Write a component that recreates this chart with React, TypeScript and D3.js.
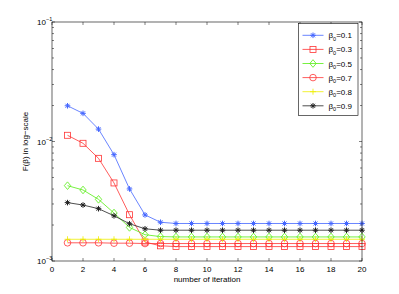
import * as d3 from "d3";

const iterations = d3.range(1, 21);

const series = [
  { label: "0.1", color: "#4466ff", marker: "star",
    values: [0.0199, 0.0172, 0.0127, 0.00776, 0.00401, 0.00243, 0.00211, 0.00206, 0.00206, 0.00206, 0.00206, 0.00206, 0.00206, 0.00206, 0.00206, 0.00206, 0.00206, 0.00206, 0.00206, 0.00206] },
  { label: "0.3", color: "#ff3333", marker: "square",
    values: [0.01127, 0.00966, 0.00723, 0.0045, 0.00244, 0.00144, 0.00134, 0.00132, 0.00132, 0.00132, 0.00132, 0.00132, 0.00132, 0.00132, 0.00132, 0.00132, 0.00132, 0.00132, 0.00132, 0.00132] },
  { label: "0.5", color: "#55ee11", marker: "diamond",
    values: [0.00427, 0.00393, 0.00328, 0.00252, 0.00191, 0.00166, 0.0016, 0.00159, 0.00159, 0.00159, 0.00159, 0.00159, 0.00159, 0.00159, 0.00159, 0.00159, 0.00159, 0.00159, 0.00159, 0.00159] },
  { label: "0.7", color: "#ff3333", marker: "circle",
    values: [0.00142, 0.00142, 0.00142, 0.00141, 0.00141, 0.0014, 0.0014, 0.0014, 0.0014, 0.0014, 0.0014, 0.0014, 0.0014, 0.0014, 0.0014, 0.0014, 0.0014, 0.0014, 0.0014, 0.0014] },
  { label: "0.8", color: "#eeee00", marker: "plus",
    values: [0.00152, 0.00152, 0.00152, 0.00152, 0.00152, 0.00152, 0.00152, 0.00152, 0.00152, 0.00152, 0.00152, 0.00152, 0.00152, 0.00152, 0.00152, 0.00152, 0.00152, 0.00152, 0.00152, 0.00152] },
  { label: "0.9", color: "#222222", marker: "star",
    values: [0.00308, 0.00294, 0.00274, 0.00239, 0.00205, 0.00186, 0.00181, 0.00181, 0.00181, 0.00181, 0.00181, 0.00181, 0.00181, 0.00181, 0.00181, 0.00181, 0.00181, 0.00181, 0.00181, 0.00181] },
];

const xTicks = [0, 2, 4, 6, 8, 10, 12, 14, 16, 18, 20];
const yDecades = [-3, -2, -1];

const W = 399, H = 294;
const m = { left: 52, right: 37, top: 22, bottom: 33 };
const font = "'Liberation Sans', Arial, sans-serif";

const Marker = ({ type, x, y, color }: { type: string; x: number; y: number; color: string }) => {
  const s = 3;
  if (type === "square") return <rect x={x - s} y={y - s} width={2 * s} height={2 * s} fill="none" stroke={color} strokeWidth={0.8} />;
  if (type === "circle") return <circle cx={x} cy={y} r={3.3} fill="none" stroke={color} strokeWidth={0.8} />;
  if (type === "diamond") return <path d={`M${x},${y - 3.8}L${x + 3.2},${y}L${x},${y + 3.8}L${x - 3.2},${y}Z`} fill="none" stroke={color} strokeWidth={0.8} />;
  if (type === "plus") return <path d={`M${x - s},${y}H${x + s}M${x},${y - s}V${y + s}`} stroke={color} strokeWidth={0.8} />;
  // star: asterisk
  const a = 2.8, b = 2;
  return <path d={`M${x - a},${y}H${x + a}M${x},${y - a}V${y + a}M${x - b},${y - b}L${x + b},${y + b}M${x - b},${y + b}L${x + b},${y - b}`} stroke={color} strokeWidth={1} />;
};

export default function App() {
  const x = d3.scaleLinear().domain([0, 20]).range([m.left, W - m.right]);
  const y = d3.scaleLog().domain([1e-3, 1e-1]).range([H - m.bottom, m.top]);
  const line = d3.line<number>().x((_, i) => x(iterations[i])).y((v) => y(v));
  const x0 = x(0), x1 = x(20), y0 = y(1e-3), y1 = y(1e-1);

  const minor: number[] = [];
  for (const dcd of [-3, -2]) for (let k = 2; k <= 9; k++) minor.push(k * Math.pow(10, dcd));

  const lg = { x: 298.5, y: 23.5, w: 59.5, h: 92, row: 14.1 };

  return (
    <svg width={W} height={H} style={{ position: "absolute", left: 0, top: 0, background: "#fff" }} fontFamily={font}>
      <rect x={0} y={0} width={W} height={H} fill="#fff" />
      {/* ticks */}
      {xTicks.map((t) => (
        <g key={t}>
          <line x1={x(t)} x2={x(t)} y1={y0} y2={y0 - 3} stroke="#000" strokeWidth={0.5} />
          <line x1={x(t)} x2={x(t)} y1={y1} y2={y1 + 3} stroke="#000" strokeWidth={0.5} />
          <text x={x(t)} y={y0 + 11} fontSize={8} textAnchor="middle">{t}</text>
        </g>
      ))}
      {yDecades.map((d) => (
        <g key={d}>
          <line x1={x0} x2={x0 + 3} y1={y(Math.pow(10, d))} y2={y(Math.pow(10, d))} stroke="#000" strokeWidth={0.5} />
          <line x1={x1} x2={x1 - 3} y1={y(Math.pow(10, d))} y2={y(Math.pow(10, d))} stroke="#000" strokeWidth={0.5} />
          <text x={x0 - 6} y={y(Math.pow(10, d)) + 3} fontSize={8} textAnchor="end">10</text>
          <text x={x0 - 6} y={y(Math.pow(10, d)) - 1} fontSize={5.5} textAnchor="start">{`\u2212${-d}`}</text>
        </g>
      ))}
      {minor.map((v) => (
        <g key={v}>
          <line x1={x0} x2={x0 + 2} y1={y(v)} y2={y(v)} stroke="#000" strokeWidth={0.5} />
          <line x1={x1} x2={x1 - 2} y1={y(v)} y2={y(v)} stroke="#000" strokeWidth={0.5} />
        </g>
      ))}
      {/* series */}
      {series.map((s) => (
        <g key={s.label}>
          <path d={line(s.values) ?? ""} fill="none" stroke={s.color} strokeWidth={0.8} />
          {s.values.map((v, i) => (
            <Marker key={i} type={s.marker} x={x(iterations[i])} y={y(v)} color={s.color} />
          ))}
        </g>
      ))}
      <rect x={x0} y={y1} width={x1 - x0} height={y0 - y1} fill="none" stroke="#000" strokeWidth={0.6} />
      {/* legend */}
      <rect x={lg.x} y={lg.y} width={lg.w} height={lg.h} fill="#fff" stroke="#000" strokeWidth={0.6} />
      {series.map((s, i) => {
        const cy = lg.y + 11.8 + i * lg.row;
        return (
          <g key={s.label}>
            <line x1={lg.x + 4} x2={lg.x + 25} y1={cy} y2={cy} stroke={s.color} strokeWidth={0.8} />
            <Marker type={s.marker} x={lg.x + 14.5} y={cy} color={s.color} />
            <text x={lg.x + 30} y={cy + 3} fontSize={8}>
              β<tspan fontSize={5.5} dy={2.5}>0</tspan><tspan dy={-2.5}>={s.label}</tspan>
            </text>
          </g>
        );
      })}
      {/* axis labels */}
      <text x={(x0 + x1) / 2} y={H - 12} fontSize={8} textAnchor="middle">number of iteration</text>
      <text transform={`translate(${28},${(y0 + y1) / 2}) rotate(-90)`} fontSize={8} textAnchor="middle">F(β) in log−scale</text>
    </svg>
  );
}
